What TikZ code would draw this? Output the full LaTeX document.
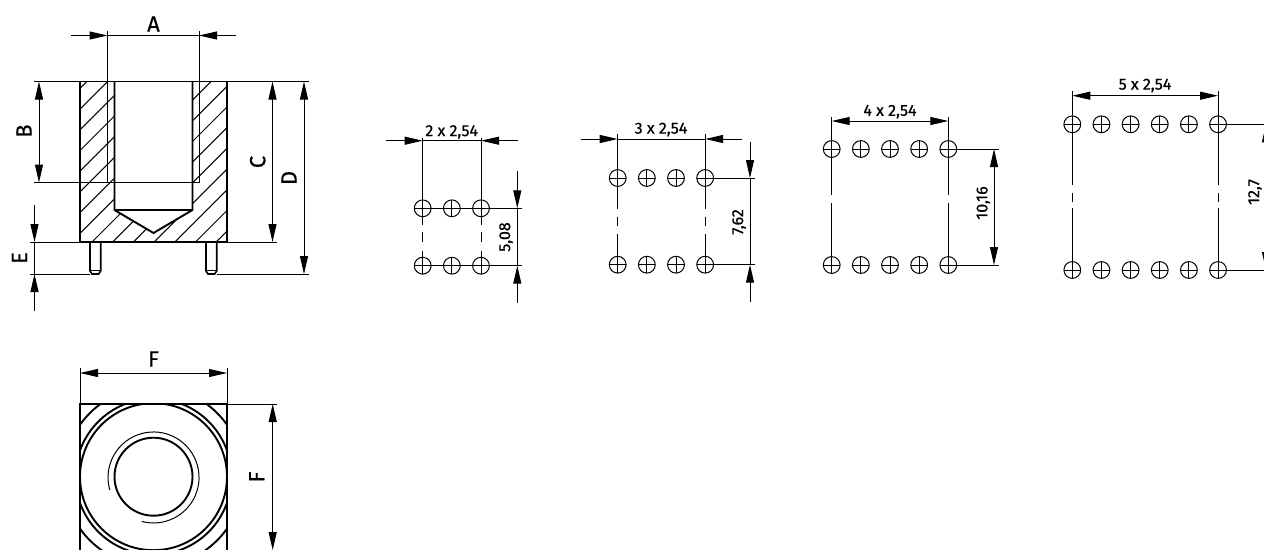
\documentclass[tikz,border=0pt]{standalone}
\usepackage{fontspec}
\setmainfont[RawFeature={embolden=0.6}]{Fira Sans}
\usetikzlibrary{arrows.meta}
\tikzset{thinline/.style={line width=1pt, black}}
\tikzset{thickline/.style={line width=1.9pt, black}}
\tikzset{dimline/.style={thinline, arrows={Triangle[length=18pt,width=8pt]-Triangle[length=18pt,width=8pt]}}}
\tikzset{dimstub/.style={thinline, arrows={-Triangle[length=18pt,width=8pt]}}}
\tikzset{biglabel/.style={inner sep=0pt, font=\fontsize{22}{22}\selectfont}}
\tikzset{smalllabel/.style={inner sep=0pt, font=\fontsize{16}{16}\selectfont}}
\tikzset{pad/.style={shape=circle, draw, line width=1pt, inner sep=0pt, outer sep=0pt, minimum size=16.8pt,
	path picture={\draw[line width=1pt] (path picture bounding box.north)--(path picture bounding box.south)
		(path picture bounding box.west)--(path picture bounding box.east);}}}

\begin{document}
\begin{tikzpicture}[x=1pt,y=-1pt]
\useasboundingbox (0,0) rectangle (1264,549);
\clip (0,0) rectangle (1264,549);
% section view
\begin{scope}
	\clip (80,81.5) rectangle (227,242);
	\foreach \k in {-8,...,6}
	{
		\pgfmathsetmacro{\s}{334 + 20.7 * \k} ;
		\draw[thinline] (\s-300,300)--(\s,0) ;
	}
\end{scope}
\fill[white] (114.5,81.5)--(192.5,81.5)--(192.5,210)--(153.5,233)--(114.5,210)--cycle ;
\draw[thinline] (107.5,81.5)--(107.5,182.5) (199,81.5)--(199,182.5) ;
\draw[thickline] (80,81.5) rectangle (227,242) ;
\draw[thickline] (114.5,81.5)--(114.5,210)--(153.5,233)--(192.5,210)--(192.5,81.5) ;
\draw[thickline] (114.5,210)--(192.5,210) (114.5,182.5)--(192.5,182.5) ;
\foreach \x in {90,206}
{
	\draw[line width=1.6pt] (\x,242)--(\x,271)--(\x+2,274)--(\x+8.7,274)--(\x+10.7,271)--(\x+10.7,242) ;
	\draw[line width=1.3pt] (\x,270.5)--(\x+10.7,270.5) ;
}
% dimensions of the section
\draw[thinline] (107.5,31)--(107.5,81.5) (199,31)--(199,182.5) (199,182.5)--(114.5,182.5) ;
\draw[dimstub] (71,35.5)--(107.5,35.5) ;
\draw[dimstub] (236,35.5)--(199,35.5) ;
\draw[thinline] (107.5,35.5)--(199,35.5) ;
\node[biglabel] (labA) at (153.5,24) {A} ;
\draw[thinline] (34,81.5)--(80,81.5) (34,182.5)--(114.5,182.5) ;
\draw[dimline] (39,81.5)--(39,182.5) ;
\node[biglabel,rotate=90] (labB) at (24,131) {B} ;
\draw[thinline] (227,81.5)--(309,81.5) (227,242)--(277,242) (216.7,274)--(309,274) ;
\draw[dimline] (272.5,81.5)--(272.5,242) ;
\node[biglabel,rotate=90] (labC) at (257.7,162) {C} ;
\draw[dimline] (304,81.5)--(304,274) ;
\node[biglabel,rotate=90] (labD) at (289,178) {D} ;
\draw[thinline] (30,242)--(80,242) (30,274)--(90,274) ;
\draw[dimstub] (34.5,205)--(34.5,242) ;
\draw[dimstub] (34.5,311)--(34.5,274) ;
\draw[thinline] (34.5,242)--(34.5,274) ;
\node[biglabel,rotate=90] (labE) at (19.5,258) {E} ;
% top view
\coordinate (topc) at (153.5,476.7) ;
\begin{scope}
	\clip (80,404) rectangle (227,552);
	\foreach \r in {73.5,78,90}
	{
		\draw[thickline] (topc) circle[radius=\r] ;
	}
\end{scope}
\draw[thickline] (80,404) rectangle (227,552) ;
\draw[thickline] (topc) circle[radius=39] ;
\draw[thinline] (109.8,490) arc[start angle=196,end angle=-105,radius=45.5pt] ;
\draw[thinline] (80,368)--(80,404) (227,368)--(227,404) (227,404)--(277,404) ;
\draw[dimline] (80,373)--(227,373) ;
\node[biglabel] (labFa) at (153.5,359) {F} ;
\draw[dimline] (272.7,404)--(272.7,550) ;
\node[biglabel,rotate=90] (labFb) at (256.7,477) {F} ;
% hole patterns
\foreach \g/\n/\xa/\ya/\yb in {a/2/422.7/208.3/265.7,b/3/617.7/178/264.7,c/4/831.7/149/265,d/5/1072.3/124.3/270}
{
	\foreach \i in {0,...,\n}
	{
		\node[pad] (\g\i t) at ({\xa+29.15*\i},\ya) {} ;
		\node[pad] (\g\i b) at ({\xa+29.15*\i},\yb) {} ;
	}
}
% 2 x 2,54
\foreach \c in {a0,a2}
{
	\draw[thinline] (\c t.center)--++(0,-70.3) ;
	\draw[thinline] (\c t.center)--++(0,17) ;
	\draw[thinline] (\c t.center) ++(0,24)--++(0,10) ;
	\draw[thinline] (\c b.center)--++(0,-15) ;
}
\draw[thinline] (a0t.center)--(a2t.center)--++(40.7,0) ;
\draw[thinline] (a0b.center)--(a2b.center)--++(40.7,0) ;
\coordinate (a0d) at (422.7,140.7) ;
\coordinate (a2d) at (481,140.7) ;
\draw[dimstub] (386,140.7)--(a0d) ;
\draw[dimstub] (517.7,140.7)--(a2d) ;
\draw[thinline] (a0d)--(a2d) ;
\node[smalllabel] (laba) at (451.7,132) {2 x 2,54} ;
\draw[dimstub] (517.3,171)--(517.3,208.3) ;
\draw[dimstub] (517.3,302.7)--(517.3,265.7) ;
\draw[thinline] (517.3,208.3)--(517.3,265.7) ;
\node[smalllabel,rotate=90] (labaa) at (506,237) {5,08} ;
% 3 x 2,54
\foreach \c in {b0,b3}
{
	\draw[thinline] (\c t.center)--++(0,-44) ;
	\draw[thinline] (\c t.center)--++(0,31) ;
	\draw[thinline] (\c t.center) ++(0,38.7)--++(0,9.3) ;
	\draw[thinline] (\c b.center)--++(0,-30.7) ;
}
\draw[thinline] (b3t.center)--++(50,0) ;
\draw[thinline] (b3b.center)--++(50,0) ;
\coordinate (b0d) at (617.7,139) ;
\coordinate (b3d) at (705.15,139) ;
\draw[dimstub] (580.7,139)--(b0d) ;
\draw[dimstub] (741.7,139)--(b3d) ;
\draw[thinline] (b0d)--(b3d) ;
\node[smalllabel] (labb) at (661,129.5) {3 x 2,54} ;
\draw[dimstub] (750,141.7)--(750,178) ;
\draw[dimstub] (750,301.7)--(750,264.7) ;
\draw[thinline] (750,178)--(750,264.7) ;
\node[smalllabel,rotate=90] (labbb) at (739,222) {7,62} ;
% 4 x 2,54
\foreach \c in {c0,c4}
{
	\draw[thinline] (\c t.center)--++(0,-32.3) ;
	\draw[thinline] (\c t.center)--++(0,46) ;
	\draw[thinline] (\c b.center)--++(0,-62.3) ;
}
\draw[thinline] (c4t.center)--++(51,0) ;
\draw[thinline] (c4b.center)--++(51,0) ;
\coordinate (c0d) at (831.7,121) ;
\coordinate (c4d) at (948.3,121) ;
\draw[dimline] (c0d)--(c4d) ;
\node[smalllabel] (labc) at (890,111.7) {4 x 2,54} ;
\draw[dimline] (994,149)--(994,265) ;
\node[smalllabel,rotate=90] (labcc) at (983.3,203) {10,16} ;
% 5 x 2,54
\foreach \c in {d0,d5}
{
	\draw[thinline] (\c t.center)--++(0,-33.3) ;
	\draw[thinline] (\c t.center)--++(0,60.7) ;
	\draw[thinline] (\c t.center) ++(0,69)--++(0,8.4) ;
	\draw[thinline] (\c b.center)--++(0,-61.7) ;
}
\draw[thinline] (d5t.center)--++(52,0) ;
\draw[thinline] (d5b.center)--++(52,0) ;
\coordinate (d0d) at (1072.3,95.7) ;
\coordinate (d5d) at (1218,95.7) ;
\draw[dimline] (d0d)--(d5d) ;
\node[smalllabel] (labd) at (1145,85.5) {5 x 2,54} ;
\draw[dimline] (1266,124.3)--(1266,270) ;
\node[smalllabel,rotate=90] (labdd) at (1255,192) {12,7} ;
\end{tikzpicture}
\end{document}
